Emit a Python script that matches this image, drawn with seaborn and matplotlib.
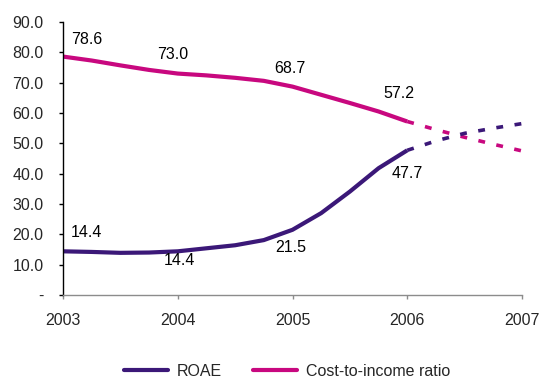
import matplotlib
matplotlib.use("Agg")
import matplotlib.pyplot as plt
from matplotlib.lines import Line2D
import numpy as np
import pandas as pd
import seaborn as sns

# Quarterly history (2003-2006) and projection to 2007
hist_x = [2003.0, 2003.25, 2003.5, 2003.75, 2004.0, 2004.25, 2004.5, 2004.75,
          2005.0, 2005.25, 2005.5, 2005.75, 2006.0]
roae_hist = [14.4, 14.2, 13.9, 14.0, 14.4, 15.4, 16.4, 18.1,
             21.5, 27.0, 34.1, 41.8, 47.7]
cti_hist = [78.6, 77.3, 75.7, 74.2, 73.0, 72.4, 71.6, 70.6,
            68.7, 66.0, 63.3, 60.5, 57.2]

proj_x = [2006.0, 2006.25, 2006.5, 2006.75, 2007.0]
roae_proj = [47.7, 50.8, 53.3, 55.0, 56.5]
cti_proj = [57.2, 54.5, 52.0, 49.7, 47.5]

# Annual values printed on the chart
label_years = [2003, 2004, 2005, 2006]
roae_labels = [14.4, 14.4, 21.5, 47.7]
cti_labels = [78.6, 73.0, 68.7, 57.2]

years = [2003, 2004, 2005, 2006, 2007]
yticks = list(range(0, 91, 10))

ROAE_COLOR = "#3B1878"
CTI_COLOR = "#C8087F"

sns.set_theme(style="white")
plt.rcParams["font.family"] = ["Liberation Sans", "DejaVu Sans"]
plt.rcParams["font.size"] = 11.5

hist = pd.DataFrame({"year": hist_x, "ROAE": roae_hist, "CTI": cti_hist})
proj = pd.DataFrame({"year": proj_x, "ROAE": roae_proj, "CTI": cti_proj})

fig = plt.figure(figsize=(5.44, 3.77), dpi=100)
ax = fig.add_axes([63 / 544, 1 - 295 / 377, (522 - 63) / 544, (295 - 22) / 377])

sns.lineplot(data=hist, x="year", y="CTI", ax=ax, color=CTI_COLOR, lw=3,
             solid_capstyle="butt")
sns.lineplot(data=hist, x="year", y="ROAE", ax=ax, color=ROAE_COLOR, lw=3,
             solid_capstyle="butt")
n_before = len(ax.lines)
sns.lineplot(data=proj, x="year", y="CTI", ax=ax, color=CTI_COLOR, lw=2.6)
sns.lineplot(data=proj, x="year", y="ROAE", ax=ax, color=ROAE_COLOR, lw=2.6)
# Projection segments drawn as short dashes with wide gaps
for ln in ax.lines[n_before:]:
    ln.set_linestyle((0, (1.9, 3.2)))
    ln.set_dash_capstyle("butt")

# Data labels (offsets in pixels)
cti_off = [(24, 17), (-5, 19), (-3, 18), (-8, 28)]
roae_off = [(23, 19), (2, -9), (-2, -18), (0, -23)]
for yr, v, off in zip(label_years, cti_labels, cti_off):
    ax.annotate(f"{v:.1f}", (yr, v), xytext=off, textcoords="offset pixels",
                ha="center", va="center", fontsize=11.5, color="black")
for yr, v, off in zip(label_years, roae_labels, roae_off):
    ax.annotate(f"{v:.1f}", (yr, v), xytext=off, textcoords="offset pixels",
                ha="center", va="center", fontsize=11.5, color="black")

ax.set_xlim(2003, 2007)
ax.set_ylim(0, 90)
ax.set_xticks(years)
ax.set_xticklabels([str(y) for y in years])
ax.set_yticks(yticks)
ax.set_yticklabels(["-" if v == 0 else f"{v:.1f}" for v in yticks])
ax.set_xlabel("")
ax.set_ylabel("")

for s in ["top", "right"]:
    ax.spines[s].set_visible(False)
ax.spines["left"].set_color("black")
ax.spines["left"].set_linewidth(1.0)
ax.spines["bottom"].set_color("#8c8c8c")
ax.spines["bottom"].set_linewidth(1.0)
ax.tick_params(axis="y", direction="out", length=3, width=1, color="black",
               pad=11, labelsize=11.5, left=True)
ax.tick_params(axis="x", direction="out", length=3, width=1, color="#8c8c8c",
               pad=10, labelsize=11.5, bottom=True)

handles = [Line2D([0], [0], color=ROAE_COLOR, lw=3),
           Line2D([0], [0], color=CTI_COLOR, lw=3)]
fig.legend(handles, ["ROAE", "Cost-to-income ratio"], loc="center",
           bbox_to_anchor=(287 / 544, 1 - 371 / 377), ncol=2, frameon=False,
           fontsize=11.5, handlelength=2.8, handletextpad=0.55,
           columnspacing=1.9, borderpad=0, borderaxespad=0)

fig.savefig("out.png", dpi=100)
